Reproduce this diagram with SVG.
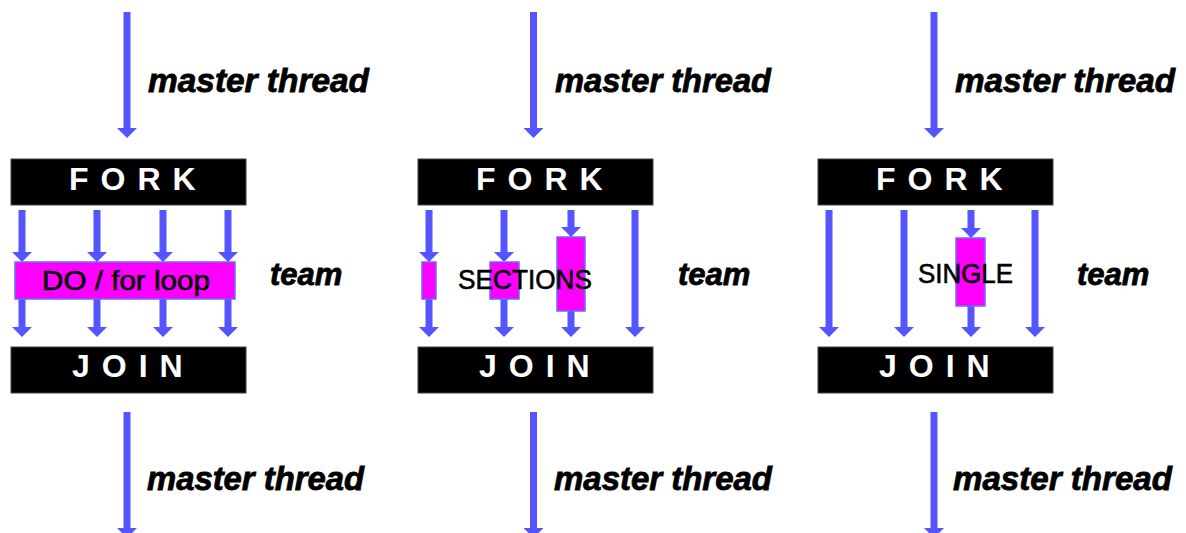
<svg xmlns="http://www.w3.org/2000/svg" width="1186" height="533" viewBox="0 0 1186 533">
<defs>
<marker id="ah" viewBox="0 0 10 20" refX="0" refY="10" markerWidth="10" markerHeight="20" markerUnits="userSpaceOnUse" orient="auto">
<path d="M0,0 L10,10 L0,20 Z" fill="#5555ff"/>
</marker>
<style>
.bar{fill:#000;stroke:#444;stroke-width:1}
.barTxt{font-family:"Liberation Sans",Arial,sans-serif;font-weight:bold;font-size:32px;fill:#fff;letter-spacing:12px}
.work{fill:#ff00ff;stroke:#6a6aff;stroke-width:1.5}
.wTxt{font-family:"Liberation Sans",Arial,sans-serif;font-size:27px;fill:#000;stroke:#000;stroke-width:0.6}
.lbl{font-family:"Liberation Sans",Arial,sans-serif;font-weight:bold;font-style:italic;font-size:33px;fill:#000;stroke:#000;stroke-width:0.8}
.team{font-family:"Liberation Sans",Arial,sans-serif;font-weight:bold;font-style:italic;font-size:31px;fill:#000;stroke:#000;stroke-width:0.8}
.arr{stroke:#5555ff;stroke-width:7;fill:none;marker-end:url(#ah)}
</style>
</defs>
<rect width="1186" height="533" fill="#fff"/>

<g id="connectors">
<line class="arr" x1="127" y1="12" x2="127" y2="128"/>
<line class="arr" x1="22" y1="210" x2="22" y2="252"/>
<line class="arr" x1="97" y1="210" x2="97" y2="252"/>
<line class="arr" x1="163" y1="210" x2="163" y2="252"/>
<line class="arr" x1="228" y1="210" x2="228" y2="252"/>
<line class="arr" x1="22" y1="299" x2="22" y2="327"/>
<line class="arr" x1="97" y1="299" x2="97" y2="327"/>
<line class="arr" x1="163" y1="299" x2="163" y2="327"/>
<line class="arr" x1="228" y1="299" x2="228" y2="327"/>
<line class="arr" x1="127" y1="412" x2="127" y2="528"/>
<line class="arr" x1="533.5" y1="12" x2="533.5" y2="128"/>
<line class="arr" x1="429" y1="210" x2="429" y2="252"/>
<line class="arr" x1="504" y1="210" x2="504" y2="252"/>
<line class="arr" x1="571" y1="210" x2="571" y2="227"/>
<line class="arr" x1="635" y1="210" x2="635" y2="327"/>
<line class="arr" x1="429" y1="299" x2="429" y2="327"/>
<line class="arr" x1="504" y1="299" x2="504" y2="327"/>
<line class="arr" x1="571" y1="311" x2="571" y2="327"/>
<line class="arr" x1="533.5" y1="412" x2="533.5" y2="528"/>
<line class="arr" x1="934" y1="12" x2="934" y2="128"/>
<line class="arr" x1="829" y1="210" x2="829" y2="327"/>
<line class="arr" x1="904" y1="210" x2="904" y2="327"/>
<line class="arr" x1="971" y1="210" x2="971" y2="228"/>
<line class="arr" x1="1035" y1="210" x2="1035" y2="327"/>
<line class="arr" x1="971" y1="306" x2="971" y2="327"/>
<line class="arr" x1="934" y1="412" x2="934" y2="528"/>
</g>

<g id="panel1">
<g id="fork1"><rect class="bar" x="11" y="159" width="235" height="46"/><text class="barTxt" x="69" y="190">FORK</text></g>
<g id="do1"><rect class="work" x="15" y="262" width="220" height="37"/><text class="wTxt" x="42" y="290" textLength="168" lengthAdjust="spacingAndGlyphs">DO / for  loop</text></g>
<g id="join1"><rect class="bar" x="11" y="347" width="235" height="46"/><text class="barTxt" x="72" y="377">JOIN</text></g>
<text class="lbl" x="148" y="92" textLength="221" lengthAdjust="spacingAndGlyphs">master thread</text>
<text class="team" x="270" y="285">team</text>
<text class="lbl" x="147" y="490" textLength="217" lengthAdjust="spacingAndGlyphs">master thread</text>
</g>

<g id="panel2">
<g id="fork2"><rect class="bar" x="418" y="159" width="235" height="46"/><text class="barTxt" x="476" y="190">FORK</text></g>
<g id="sections2">
<rect class="work" x="422" y="262" width="14" height="37"/>
<rect class="work" x="490" y="262" width="29" height="37"/>
<rect class="work" x="557" y="237" width="28" height="74"/>
<text class="wTxt" x="458" y="289" textLength="134" lengthAdjust="spacingAndGlyphs">SECTIONS</text>
</g>
<g id="join2"><rect class="bar" x="418" y="347" width="235" height="46"/><text class="barTxt" x="479" y="377">JOIN</text></g>
<text class="lbl" x="555" y="92" textLength="216" lengthAdjust="spacingAndGlyphs">master thread</text>
<text class="team" x="678" y="285">team</text>
<text class="lbl" x="554" y="490" textLength="218" lengthAdjust="spacingAndGlyphs">master thread</text>
</g>

<g id="panel3">
<g id="fork3"><rect class="bar" x="818" y="159" width="235" height="46"/><text class="barTxt" x="876" y="190">FORK</text></g>
<g id="single3">
<rect class="work" x="956" y="238" width="29" height="68"/>
<text class="wTxt" x="918" y="283" textLength="95" lengthAdjust="spacingAndGlyphs">SINGLE</text>
</g>
<g id="join3"><rect class="bar" x="818" y="347" width="235" height="46"/><text class="barTxt" x="879" y="377">JOIN</text></g>
<text class="lbl" x="955" y="92" textLength="220" lengthAdjust="spacingAndGlyphs">master thread</text>
<text class="team" x="1077" y="285">team</text>
<text class="lbl" x="953" y="490" textLength="219" lengthAdjust="spacingAndGlyphs">master thread</text>
</g>
</svg>
